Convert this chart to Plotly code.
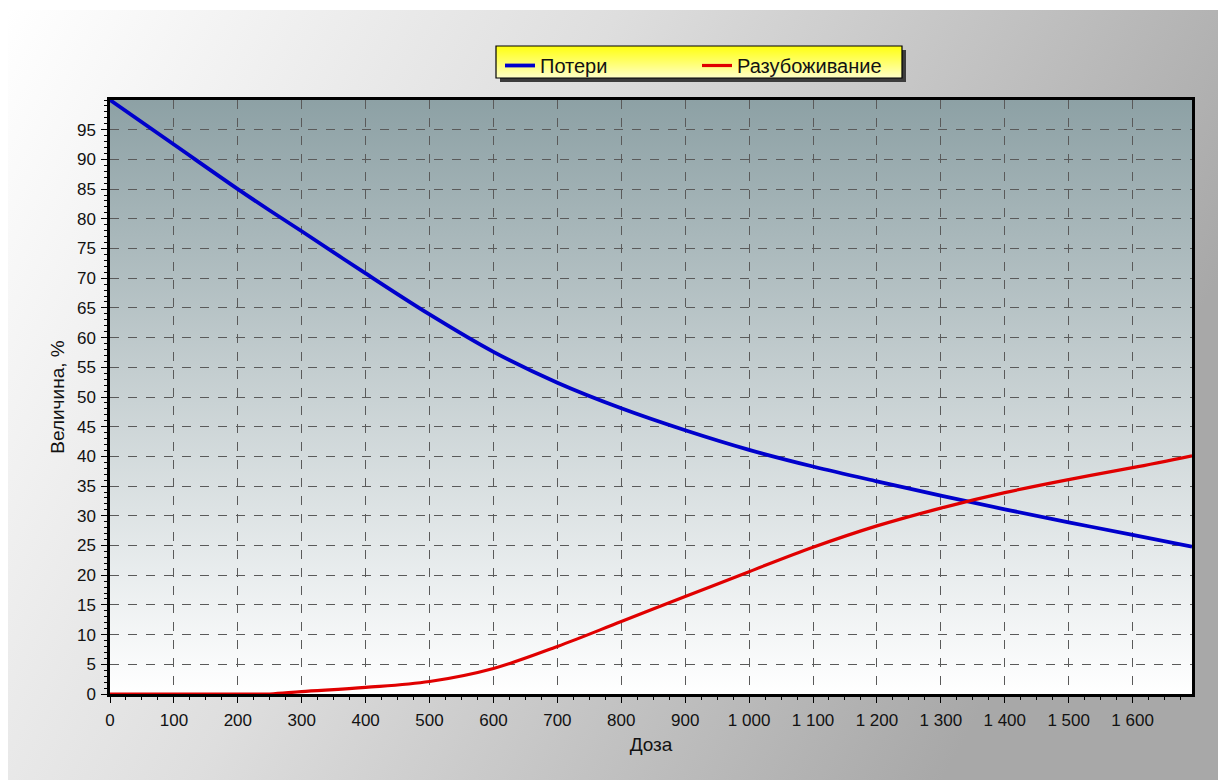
import base64
import plotly.graph_objects as go

# Dose (x) and the two curves, in percent
dose = [0, 100, 200, 250, 300, 400, 500, 600, 700, 800, 900, 1000,
        1100, 1200, 1300, 1400, 1500, 1600, 1693]
losses = [100, 92.5, 85.0, 81.4, 77.9, 70.8, 63.9, 57.6, 52.4, 48.1, 44.4,
          41.1, 38.3, 35.8, 33.4, 31.1, 28.9, 26.8, 24.8]
dilution = [0, 0, 0, 0, 0.4, 1.1, 2.1, 4.3, 8.0, 12.2, 16.4, 20.6,
            24.7, 28.3, 31.3, 33.9, 36.1, 38.1, 40.1]

x_ticks = list(range(0, 1601, 100))
x_tick_text = [f"{v:,}".replace(",", " ") for v in x_ticks]
y_ticks = list(range(0, 96, 5))

W, H = 1218, 780
L, R, T, B = 110, 26, 100, 86
PW, PH = W - L - R, H - T - B


def px_to_paper(px, py):
    return (px - L) / PW, (H - B - py) / PH


def svg_gradient(stops, x2="0", y2="1"):
    stop_xml = "".join(
        f'<stop offset="{o}" stop-color="{c}"/>' for o, c in stops)
    svg = (
        '<svg xmlns="http://www.w3.org/2000/svg" width="100" height="100" '
        'preserveAspectRatio="none" viewBox="0 0 100 100">'
        f'<defs><linearGradient id="g" x1="0" y1="0" x2="{x2}" y2="{y2}">'
        f'{stop_xml}</linearGradient></defs>'
        '<rect width="100" height="100" fill="url(#g)"/></svg>'
    )
    return "data:image/svg+xml;base64," + base64.b64encode(svg.encode()).decode()


font = "Liberation Sans, Arial, sans-serif"
text_color = "#121212"

fig = go.Figure()
fig.add_trace(go.Scatter(
    x=dose, y=losses, name="Потери", mode="lines",
    line=dict(color="#0000cc", width=3.8, shape="spline", smoothing=1.0),
))
fig.add_trace(go.Scatter(
    x=dose, y=dilution, name="Разубоживание", mode="lines",
    line=dict(color="#e00000", width=3.2, shape="spline", smoothing=1.0),
))

images = []
# outer grey panel
x0, y0 = px_to_paper(8, 10)
images.append(dict(
    source=svg_gradient([(0, "#ffffff"), (0.45, "#dedede"), (1, "#a8a8a8")],
                        x2="1", y2="0.35"),
    xref="paper", yref="paper", x=x0, y=y0,
    sizex=(W - 8) / PW, sizey=(H - 10) / PH,
    xanchor="left", yanchor="top", sizing="stretch", layer="below",
))
# plot area background
images.append(dict(
    source=svg_gradient([(0, "#8da1a5"), (0.45, "#c3cdcf"),
                         (0.8, "#e9edee"), (1, "#ffffff")]),
    xref="paper", yref="paper", x=0, y=1, sizex=1, sizey=1,
    xanchor="left", yanchor="top", sizing="stretch", layer="below",
))
# legend box
LX0, LY0, LX1, LY1 = 496, 46, 902, 78
lx0, ly0 = px_to_paper(LX0, LY0)
lx1, ly1 = px_to_paper(LX1, LY1)
images.append(dict(
    source=svg_gradient([(0, "#ffff10"), (0.45, "#ffff60"), (1, "#ffffc8")]),
    xref="paper", yref="paper", x=lx0, y=ly0,
    sizex=lx1 - lx0, sizey=ly0 - ly1,
    xanchor="left", yanchor="top", sizing="stretch", layer="below",
))

shapes = []
sh = 4
sx0, sy0 = px_to_paper(LX0 + sh, LY0 + sh)
sx1, sy1 = px_to_paper(LX1 + sh, LY1 + sh)
ex, ey = px_to_paper(LX1, LY1)
# drop shadow (right and bottom strips)
shapes.append(dict(type="rect", xref="paper", yref="paper",
                   x0=ex, x1=sx1, y0=sy0, y1=sy1,
                   fillcolor="#3c3c3c", line=dict(width=0), layer="below"))
shapes.append(dict(type="rect", xref="paper", yref="paper",
                   x0=sx0, x1=sx1, y0=ey, y1=sy1,
                   fillcolor="#3c3c3c", line=dict(width=0), layer="below"))
shapes.append(dict(type="rect", xref="paper", yref="paper",
                   x0=lx0, x1=lx1, y0=ly1, y1=ly0,
                   line=dict(color="#000000", width=1.2), layer="below"))

axis_common = dict(
    showline=True, linecolor="#000000", linewidth=2.5, mirror=True,
    showgrid=True, gridcolor="#5a5a5a", gridwidth=1, griddash="dash",
    ticks="outside", ticklen=6, tickcolor="#000000", tickwidth=1,
    zeroline=False,
    tickfont=dict(family=font, size=17, color=text_color),
    title_font=dict(family=font, size=19, color=text_color),
)

fig.update_layout(
    width=W, height=H,
    margin=dict(l=L, r=R, t=T, b=B),
    paper_bgcolor="#ffffff",
    plot_bgcolor="rgba(0,0,0,0)",
    images=images,
    shapes=shapes,
    showlegend=True,
    legend=dict(
        orientation="h", x=px_to_paper(500, 0)[0], y=ly0,
        xanchor="left", yanchor="top",
        bgcolor="rgba(0,0,0,0)", borderwidth=0,
        entrywidth=152, entrywidthmode="pixels",
        font=dict(family=font, size=20, color=text_color),
        tracegroupgap=0, itemwidth=30,
    ),
    xaxis=dict(
        range=[0, 1693], tickvals=x_ticks, ticktext=x_tick_text,
        ticklabelstandoff=3,
        title=dict(text="Доза", standoff=9),
        minor=dict(dtick=25, tick0=0, ticks="outside", ticklen=3,
                   tickcolor="#000000", showgrid=False),
        **axis_common,
    ),
    yaxis=dict(
        range=[0, 100], tickvals=y_ticks,
        ticklabelstandoff=2,
        title=dict(text="Величина, %", standoff=8),
        minor=dict(dtick=1, tick0=0, ticks="outside", ticklen=3,
                   tickcolor="#000000", showgrid=False),
        **axis_common,
    ),
)

fig.write_html("out.html")
